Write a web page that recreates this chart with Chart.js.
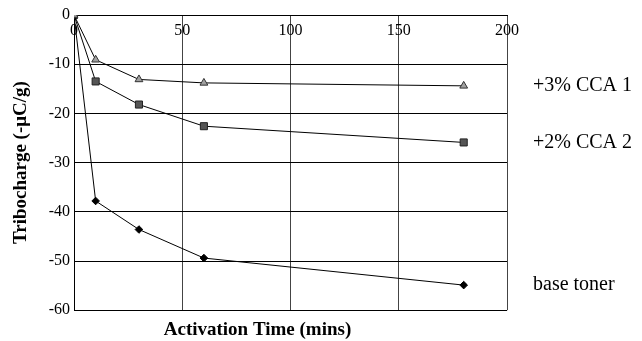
<!DOCTYPE html>
<html>
<head>
<meta charset="utf-8">
<script src="https://cdn.jsdelivr.net/npm/chart.js@4"></script>
<style>
	html, body { margin: 0; padding: 0; background: #fff; }
	#wrap { width: 642px; height: 341px; }
</style>
</head>
<body>
<div id="wrap"><canvas id="myChart"></canvas></div>
<script>
// activation time (mins)
var times = [0, 10, 30, 60, 180];
// tribocharge values (-uC/g)
var cca1 = [0, -9.1, -13.1, -13.8, -14.4];
var cca2 = [0, -13.5, -18.2, -22.6, -25.9];
var base = [0, -37.8, -43.6, -49.4, -54.9];
var seriesNames = ['+3% CCA 1', '+2% CCA 2', 'base toner'];

function pts(vals) {
	var out = [];
	for (var i in vals) {
		out.push({x: times[i], y: vals[i]});
	}
	return out;
}

var serif = "'Liberation Serif', 'Times New Roman', serif";

// writes the series name to the right of each line's last point
var endLabels = {
	id: 'endLabels',
	afterDatasetsDraw: function(chart) {
		var ctx = chart.ctx;
		ctx.save();
		ctx.font = '20px ' + serif;
		ctx.fillStyle = '#000';
		ctx.textAlign = 'left';
		ctx.textBaseline = 'middle';
		chart.data.datasets.forEach(function(ds, i) {
			var meta = chart.getDatasetMeta(i);
			var last = meta.data[meta.data.length - 1];
			ctx.fillText(ds.label, chart.chartArea.right + 26, last.y);
		});
		ctx.restore();
	}
};

var chartdata = {
	datasets: [
		{
			label: seriesNames[0],
			data: pts(cca1),
			borderColor: '#000',
			borderWidth: 1,
			pointStyle: 'triangle',
			pointRadius: 4.5,
			pointBackgroundColor: '#a0a0a0',
			pointBorderColor: '#333',
			pointBorderWidth: 1
		},
		{
			label: seriesNames[1],
			data: pts(cca2),
			borderColor: '#000',
			borderWidth: 1,
			pointStyle: 'rect',
			pointRadius: 5,
			pointBackgroundColor: '#555',
			pointBorderColor: '#222',
			pointBorderWidth: 1
		},
		{
			label: seriesNames[2],
			data: pts(base),
			borderColor: '#000',
			borderWidth: 1,
			pointStyle: 'rectRot',
			pointRadius: 3.8,
			pointBackgroundColor: '#000',
			pointBorderColor: '#000',
			pointBorderWidth: 1
		}
	]
};

var ctx = document.getElementById('myChart');

var lineGraph = new Chart(ctx, {
	type: 'scatter',
	data: chartdata,
	plugins: [endLabels],
	options: {
		responsive: true,
		maintainAspectRatio: false,
		animation: false,
		showLine: true,
		layout: {
			padding: {top: 15, right: 135, left: 8, bottom: 0}
		},
		plugins: {
			legend: { display: false },
			tooltip: { enabled: false },
			title: {
				display: true,
				position: 'bottom',
				text: 'Activation Time (mins)',
				color: '#000',
				font: {family: serif, size: 19, weight: 'bold', lineHeight: 1.2},
				padding: {top: 8, bottom: 0}
			}
		},
		scales: {
			x: {
				type: 'linear',
				position: {y: 0},
				min: 0,
				max: 200,
				ticks: {
					stepSize: 50,
					color: '#000',
					padding: 6,
					font: {family: serif, size: 16}
				},
				grid: {
					color: '#444',
					lineWidth: 1,
					drawTicks: false
				},
				border: { color: '#000' }
			},
			y: {
				min: -60,
				max: 0,
				afterFit: function(scale) { scale.width = 66; },
				ticks: {
					stepSize: 10,
					color: '#000',
					padding: 4,
					font: {family: serif, size: 16}
				},
				grid: {
					color: '#000',
					lineWidth: 1,
					drawTicks: false
				},
				border: { color: '#000' },
				title: {
					display: true,
					text: 'Tribocharge (-\u03bcC/g)',
					color: '#000',
					font: {family: serif, size: 19, weight: 'bold'},
					padding: {top: 2, bottom: 4}
				}
			}
		}
	}
});
</script>
</body>
</html>
